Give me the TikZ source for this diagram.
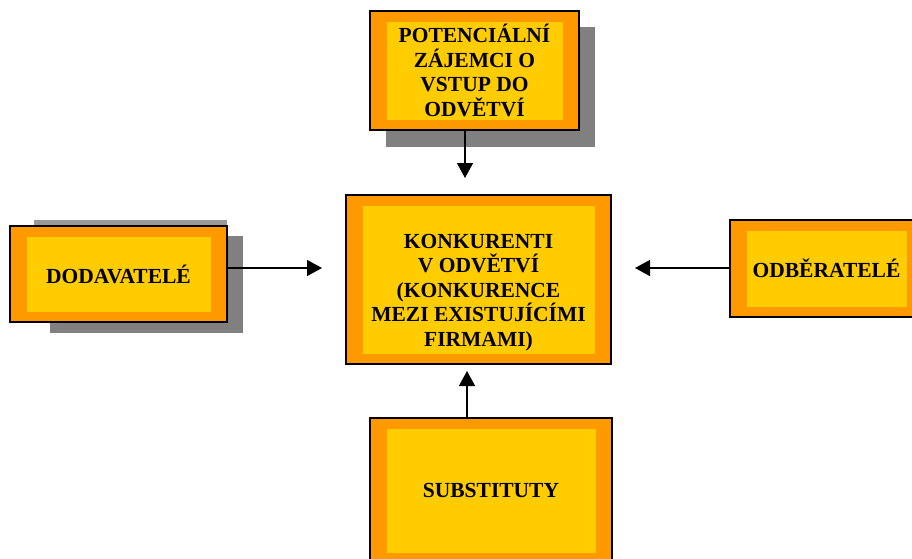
\documentclass[tikz,border=0pt]{standalone}
\usepackage{fontspec}
\setmainfont{Liberation Serif}
\usetikzlibrary{arrows.meta}
\usetikzlibrary{positioning}

\definecolor{boxorange}{HTML}{FF9900}
\definecolor{boxyellow}{HTML}{FFCC00}
\definecolor{shadowgrey}{HTML}{808080}
\definecolor{shadowlight}{HTML}{999999}

\tikzset{
  sila/.style={rectangle, draw=black, line width=1.5pt, fill=boxorange,
    inner sep=0pt, align=center, font=\fontsize{21.5}{24.5}\selectfont\bfseries,
    path picture={\fill[boxyellow]
      ([shift={(16.5pt,-10.5pt)}]path picture bounding box.north west) rectangle
      ([shift={(-16pt,10pt)}]path picture bounding box.south east);}},
  stin/.style={fill=shadowgrey},
  tlak/.style={line width=1.5pt, -{Triangle[length=15pt,width=16pt]}},
}

\begin{document}
\begin{tikzpicture}[x=1pt, y=-1pt]
    \useasboundingbox (0,0) rectangle (912,558);
    \clip (0,0) rectangle (912,558);


    % shadows
    \fill[stin, fill=shadowlight] (34,220) rectangle (227,240);
    \fill[stin] (50,236) rectangle (243,333);
    \fill[stin] (386,27) rectangle (595,147);


    % middle level
    \node[sila, minimum width=265pt, minimum height=169pt,
      label={[align=center, font=\fontsize{21.5}{24.5}\selectfont\bfseries, yshift=-13pt]center:{KONKURENTI\\V ODVĚTVÍ\\(KONKURENCE\\MEZI EXISTUJÍCÍMI\\FIRMAMI)}}]
      (konkurenti) at (478.5,279.5) {};
    \node[sila, minimum width=217pt, minimum height=96pt] (dodavatele) at (118.5,274) {DODAVATELÉ};
    \node[sila, minimum width=193pt, minimum height=97pt] (odberatele) at (826.5,268.5) {ODBĚRATELÉ};


    % top and bottom level
    \node[sila, minimum width=209pt, minimum height=119pt] (zajemci) at (474.5,70.5)
      {POTENCIÁLNÍ\\ZÁJEMCI O\\VSTUP DO\\ODVĚTVÍ};
    \node[sila, minimum width=242pt, minimum height=145pt] (substituty) at (491,490.5) {SUBSTITUTY};


    % arrows
    \coordinate (zajemci-tip) at (465,178);
    \draw[tlak] (zajemci.south -| zajemci-tip) -- (zajemci-tip);
    \coordinate (dodavatele-tip) at (322,268);
    \draw[tlak] (dodavatele.east |- dodavatele-tip) -- (dodavatele-tip);
    \coordinate (odberatele-tip) at (635,268);
    \draw[tlak] (odberatele.west |- odberatele-tip) -- (odberatele-tip);
    \coordinate (substituty-tip) at (467,371);
    \draw[tlak] (substituty.north -| substituty-tip) -- (substituty-tip);

\end{tikzpicture}
\end{document}
